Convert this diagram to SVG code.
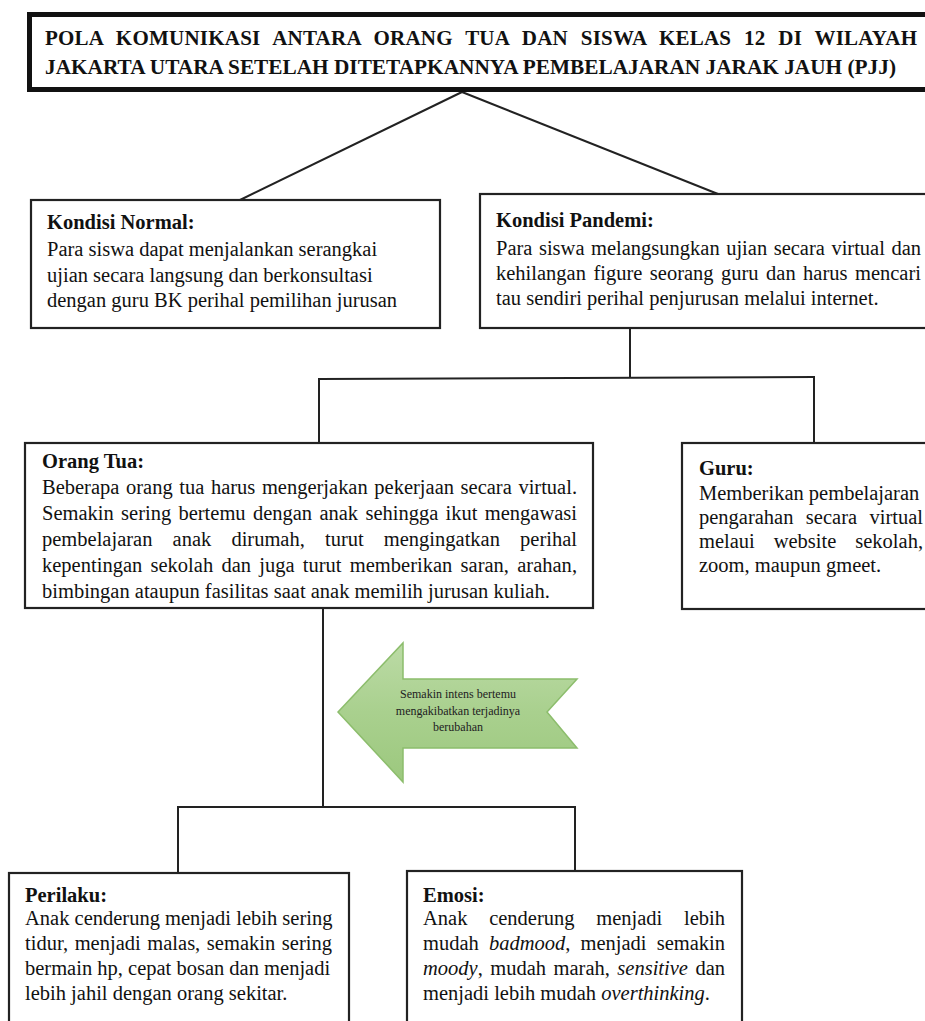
<svg xmlns="http://www.w3.org/2000/svg" width="925" height="1021" viewBox="0 0 925 1021">
<style>
  .box { fill: #ffffff; stroke: #222222; stroke-width: 2.2; }
  .tbox { fill: #ffffff; stroke: #111111; stroke-width: 5; }
  .conn { fill: none; stroke: #222222; stroke-width: 2; }
  .t { font-family: "Liberation Serif", "Times New Roman", serif; font-size: 20.5px; fill: #111111; }
  .h { font-family: "Liberation Serif", "Times New Roman", serif; font-size: 20.5px; font-weight: bold; fill: #111111; }
  .title { font-family: "Liberation Serif", "Times New Roman", serif; font-size: 21px; font-weight: bold; fill: #111111; }
  .small { font-family: "Liberation Serif", "Times New Roman", serif; font-size: 12px; fill: #222222; text-anchor: middle; }
  .i { font-style: italic; }
</style>
<defs>
  <linearGradient id="grn" x1="0" y1="0" x2="0" y2="1">
    <stop offset="0" stop-color="#bcdba6"/>
    <stop offset="0.5" stop-color="#a9d08e"/>
    <stop offset="1" stop-color="#9cc87e"/>
  </linearGradient>
</defs>
<rect width="925" height="1021" fill="#ffffff"/>

<g id="connectors">
  <line class="conn" x1="462" y1="92" x2="240" y2="200"/>
  <line class="conn" x1="462" y1="92" x2="718" y2="194"/>
  <line class="conn" x1="630" y1="328" x2="630" y2="378"/>
  <line class="conn" x1="319" y1="379" x2="814" y2="377"/>
  <line class="conn" x1="319" y1="378" x2="319" y2="443"/>
  <line class="conn" x1="814" y1="376" x2="814" y2="443"/>
  <line class="conn" x1="323" y1="608" x2="323" y2="807"/>
  <line class="conn" x1="178" y1="807" x2="575" y2="807"/>
  <line class="conn" x1="178" y1="806" x2="178" y2="873"/>
  <line class="conn" x1="575" y1="806" x2="575" y2="871"/>
</g>

<g id="title">
  <rect class="tbox" x="29.5" y="14.5" width="920" height="75"/>
  <text class="title" x="45" y="45" style="word-spacing:7.3px" textLength="872" lengthAdjust="spacing">POLA KOMUNIKASI ANTARA ORANG TUA DAN SISWA KELAS 12 DI WILAYAH</text>
  <text class="title" x="45" y="74" textLength="851" lengthAdjust="spacingAndGlyphs">JAKARTA UTARA SETELAH DITETAPKANNYA PEMBELAJARAN JARAK JAUH (PJJ)</text>
</g>

<g id="kondisi-normal">
  <rect class="box" x="31" y="200" width="409" height="128"/>
  <text class="h" x="47" y="229">Kondisi Normal:</text>
  <text class="t" x="47" y="256">Para siswa dapat menjalankan serangkai</text>
  <text class="t" x="47" y="282">ujian secara langsung dan berkonsultasi</text>
  <text class="t" x="47" y="307">dengan guru BK perihal pemilihan jurusan</text>
</g>

<g id="kondisi-pandemi">
  <rect class="box" x="480" y="194" width="470" height="134"/>
  <text class="h" x="496" y="227">Kondisi Pandemi:</text>
  <text class="t" x="496" y="255" style="word-spacing:1.4px" textLength="425" lengthAdjust="spacing">Para siswa melangsungkan ujian secara virtual dan</text>
  <text class="t" x="496" y="280" style="word-spacing:2.3px" textLength="425" lengthAdjust="spacing">kehilangan figure seorang guru dan harus mencari</text>
  <text class="t" x="496" y="305">tau sendiri perihal penjurusan melalui internet.</text>
</g>

<g id="orang-tua">
  <rect class="box" x="25" y="443" width="568" height="165"/>
  <text class="h" x="42" y="468">Orang Tua:</text>
  <text class="t" x="42" y="494" style="word-spacing:1.5px" textLength="535" lengthAdjust="spacing">Beberapa orang tua harus mengerjakan pekerjaan secara virtual.</text>
  <text class="t" x="42" y="520" style="word-spacing:2.2px" textLength="535" lengthAdjust="spacing">Semakin sering bertemu dengan anak sehingga ikut mengawasi</text>
  <text class="t" x="42" y="546" style="word-spacing:15px" textLength="535" lengthAdjust="spacing">pembelajaran anak dirumah, turut mengingatkan perihal</text>
  <text class="t" x="42" y="572" style="word-spacing:3.1px" textLength="535" lengthAdjust="spacing">kepentingan sekolah dan juga turut memberikan saran, arahan,</text>
  <text class="t" x="42" y="598">bimbingan ataupun fasilitas saat anak memilih jurusan kuliah.</text>
</g>

<g id="guru">
  <rect class="box" x="682" y="443" width="270" height="166"/>
  <text class="h" x="699" y="475">Guru:</text>
  <text class="t" x="699" y="500">Memberikan pembelajaran</text>
  <text class="t" x="699" y="524" style="word-spacing:7.3px" textLength="224" lengthAdjust="spacing">pengarahan secara virtual</text>
  <text class="t" x="699" y="548" style="word-spacing:13.8px" textLength="224" lengthAdjust="spacing">melaui website sekolah,</text>
  <text class="t" x="699" y="572">zoom, maupun gmeet.</text>
</g>

<g id="arrow">
  <polygon points="338,712 403,643 403,679 577,679 547,712 577,748 403,748 403,782" fill="url(#grn)" stroke="#8cbd6c" stroke-width="1.5"/>
  <text class="small" x="458" y="698">Semakin intens bertemu</text>
  <text class="small" x="458" y="715">mengakibatkan terjadinya</text>
  <text class="small" x="458" y="731">berubahan</text>
</g>

<g id="perilaku">
  <rect class="box" x="9" y="873" width="340" height="170"/>
  <text class="h" x="25" y="902">Perilaku:</text>
  <text class="t" x="25" y="925">Anak cenderung menjadi lebih sering</text>
  <text class="t" x="25" y="950" style="word-spacing:1.5px">tidur, menjadi malas, semakin sering</text>
  <text class="t" x="25" y="975">bermain hp, cepat bosan dan menjadi</text>
  <text class="t" x="25" y="1000">lebih jahil dengan orang sekitar.</text>
</g>

<g id="emosi">
  <rect class="box" x="407" y="871" width="335" height="170"/>
  <text class="h" x="423" y="902">Emosi:</text>
  <text class="t" x="423" y="925" style="word-spacing:16.6px" textLength="302" lengthAdjust="spacing">Anak cenderung menjadi lebih</text>
  <text class="t" x="423" y="950" style="word-spacing:5px" textLength="302" lengthAdjust="spacing">mudah <tspan class="i">badmood</tspan>, menjadi semakin</text>
  <text class="t" x="423" y="975" style="word-spacing:2.3px" textLength="302" lengthAdjust="spacing"><tspan class="i">moody</tspan>, mudah marah, <tspan class="i">sensitive</tspan> dan</text>
  <text class="t" x="423" y="1000">menjadi lebih mudah <tspan class="i">overthinking</tspan>.</text>
</g>
</svg>
